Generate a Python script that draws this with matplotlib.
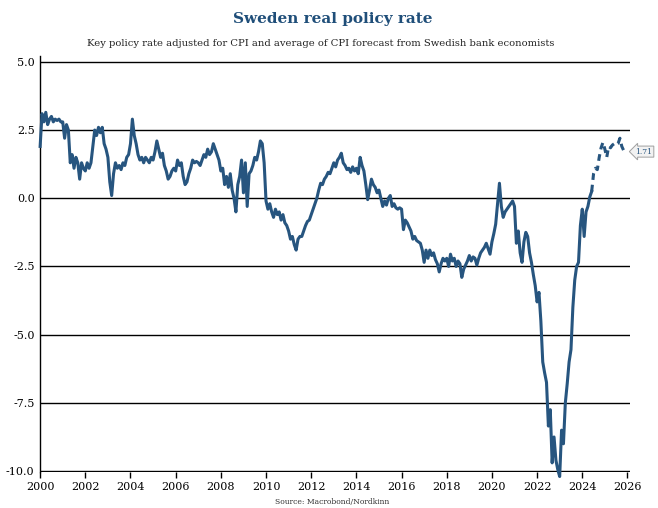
import numpy as np
import matplotlib
matplotlib.use("Agg")
import matplotlib.pyplot as plt

# monthly real policy rate, Jan 2000 .. Dec 2025
rate_2000s = [
    1.9, 3.1, 2.8, 3.15, 2.7, 2.9, 3.0, 2.8, 2.9, 2.85, 2.9, 2.8,        # 2000
    2.8, 2.2, 2.7, 2.5, 1.3, 1.6, 1.1, 1.5, 1.3, 0.7, 1.3, 1.1,          # 2001
    1.0, 1.3, 1.1, 1.3, 1.9, 2.5, 2.3, 2.6, 2.4, 2.6, 2.0, 1.8,          # 2002
    1.5, 0.6, 0.1, 0.9, 1.3, 1.1, 1.2, 1.05, 1.3, 1.2, 1.5, 1.6,         # 2003
    2.0, 2.9, 2.3, 2.0, 1.6, 1.4, 1.5, 1.3, 1.5, 1.4, 1.3, 1.5,          # 2004
    1.4, 1.7, 2.1, 1.8, 1.5, 1.65, 1.2, 1.0, 0.7, 0.8, 1.0, 1.1,         # 2005
    1.0, 1.4, 1.2, 1.3, 0.8, 0.5, 0.6, 0.9, 1.1, 1.4, 1.3, 1.35,         # 2006
    1.3, 1.2, 1.4, 1.6, 1.5, 1.8, 1.6, 1.7, 2.0, 1.8, 1.6, 1.4,          # 2007
    1.0, 1.1, 0.5, 0.8, 0.4, 0.9, 0.3, 0.0, -0.5, 0.5, 0.8, 1.4,         # 2008
    0.2, 1.3, -0.3, 0.9, 1.0, 1.2, 1.5, 1.4, 1.7, 2.1, 2.0, 1.3,         # 2009
]
rate_2010s = [
    -0.1, -0.4, -0.2, -0.5, -0.7, -0.4, -0.6, -0.5, -0.8, -0.6, -0.9, -1.0,      # 2010
    -1.2, -1.5, -1.4, -1.7, -1.9, -1.5, -1.4, -1.4, -1.2, -1.0, -0.85, -0.8,     # 2011
    -0.6, -0.4, -0.2, 0.0, 0.3, 0.55, 0.5, 0.7, 0.8, 0.95, 0.9, 1.1,             # 2012
    1.3, 1.15, 1.4, 1.5, 1.65, 1.3, 1.2, 1.05, 1.1, 0.95, 1.15, 1.0,             # 2013
    1.1, 0.9, 1.5, 1.2, 1.0, 0.5, -0.05, 0.3, 0.7, 0.5, 0.4, 0.2,                # 2014
    0.3, 0.0, -0.3, -0.1, -0.25, 0.0, 0.1, -0.3, -0.2, -0.35, -0.4, -0.35,       # 2015
    -0.4, -1.15, -0.8, -0.9, -1.05, -1.2, -1.5, -1.4, -1.55, -1.6, -1.65, -1.9,  # 2016
    -2.35, -1.9, -2.2, -1.9, -2.1, -2.0, -2.25, -2.4, -2.7, -2.4, -2.2, -2.3,    # 2017
    -2.2, -2.5, -2.05, -2.3, -2.2, -2.5, -2.3, -2.4, -2.9, -2.6, -2.45, -2.3,    # 2018
    -2.1, -2.3, -2.15, -2.2, -2.45, -2.2, -2.0, -1.9, -1.8, -1.65, -1.85, -2.05, # 2019
]
rate_2020s = [
    -1.6, -1.3, -0.95, -0.2, 0.55, -0.3, -0.7, -0.5, -0.4, -0.3, -0.2, -0.1,     # 2020
    -0.3, -1.65, -1.2, -2.0, -2.35, -1.6, -1.25, -1.4, -2.0, -2.35, -2.8, -3.2,  # 2021
    -3.8, -3.45, -4.5, -6.0, -6.4, -6.75, -8.35, -7.75, -9.7, -8.75, -9.6, -9.95,  # 2022
    -10.2, -8.5, -9.0, -7.5, -6.8, -6.0, -5.55, -4.0, -3.0, -2.5, -2.35, -1.0,   # 2023
    -0.4, -1.4, -0.5, -0.3, 0.05, 0.25, 0.9, 1.1, 1.05, 1.5, 1.85, 2.05,         # 2024
    1.8, 1.5, 1.9, 1.85, 1.95, 2.0, 1.95, 2.0, 2.2, 1.9, 1.75, 1.71,            # 2025
]
dashed_from = "2024-06"

y_ticks = [5.0, 2.5, 0.0, -2.5, -5.0, -7.5, -10.0]
x_ticks = list(range(2000, 2027, 2))

BLUE = "#27557f"

values = np.array(rate_2000s + rate_2010s + rate_2020s)
dates = 2000 + np.arange(len(values)) / 12.0
split = (int(dashed_from[:4]) - 2000) * 12 + int(dashed_from[5:]) - 1

plt.rcParams["font.family"] = ["DejaVu Serif"]

fig = plt.figure(figsize=(6.58, 5.08), dpi=100)
ax = fig.add_axes([0.061, 0.070, 0.896, 0.819])

for v in y_ticks:
    ax.axhline(v, color="black", lw=1.0, zorder=1)

# the trough dips a little under the -10 line, so let the line run past the frame
ax.plot(dates[:split + 1], values[:split + 1], color=BLUE, lw=2.2, zorder=3, clip_on=False)
ax.plot(dates[split:], values[split:], color=BLUE, lw=2.2, ls=(0, (2.2, 1.6)), zorder=3)

# end-of-line value tag, pointing back at the last observation
ax.annotate(f"{values[-1]:.2f}", xy=(dates[-1], values[-1]), xytext=(7, 0),
            textcoords="offset points", ha="left", va="center", fontsize=5.5,
            color=BLUE, annotation_clip=False,
            bbox=dict(boxstyle="larrow,pad=0.2", fc="#f2f2f2", ec="#a0a0a0", lw=0.7))

ax.set_xlim(2000, 2026.1)
ax.set_ylim(-10.05, 5.2)
ax.set_yticks(y_ticks)
ax.set_yticklabels([f"{v:.1f}" for v in y_ticks])
ax.set_xticks(x_ticks)
ax.set_xticklabels([str(x) for x in x_ticks])
ax.tick_params(axis="y", length=0, pad=4, labelsize=8)
ax.tick_params(axis="x", length=4, width=1, pad=3, labelsize=8)

for side in ("top", "right", "bottom"):
    ax.spines[side].set_visible(False)
ax.spines["left"].set_color("black")
ax.spines["left"].set_linewidth(1.0)

fig.text(0.505, 0.962, "Sweden real policy rate", ha="center", va="center",
         fontsize=11, fontweight="bold", color="#1f4e79")
fig.text(0.487, 0.915, "Key policy rate adjusted for CPI and average of CPI forecast from Swedish bank economists",
         ha="center", va="center", fontsize=7.2, color="#222222")
fig.text(0.505, 0.003, "Source: Macrobond/Nordkinn", ha="center", va="bottom",
         fontsize=5.5, color="#333333")

fig.savefig("out.png", dpi=100)
